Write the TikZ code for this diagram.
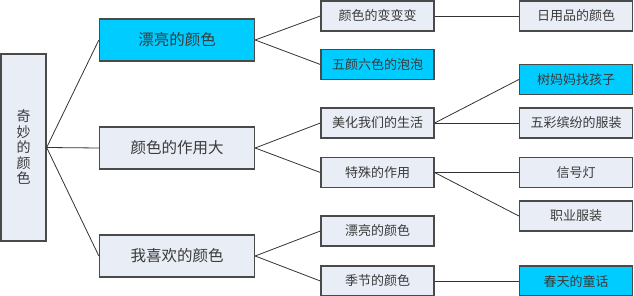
\documentclass[tikz,border=0pt]{standalone}
\usepackage{fontspec}
\setmainfont{Noto Sans CJK SC}
\usetikzlibrary{positioning}
\definecolor{boxfill}{HTML}{E9EDF6}
\definecolor{hotfill}{HTML}{00CCFF}
\definecolor{edge}{HTML}{4A4A4A}
\definecolor{wire}{HTML}{333333}
\definecolor{txt}{HTML}{3A3A3A}

\tikzset{
  box/.style={rectangle, draw=edge, line width=1.3pt, fill=boxfill, inner sep=0pt,
              text=txt, align=center},
  rootbox/.style={box, minimum width=45pt, minimum height=187pt,
                  font=\fontsize{14pt}{15.5pt}\selectfont},
  topicbox/.style={box, minimum width=155pt, minimum height=42pt,
                   font=\fontsize{15.5pt}{18pt}\selectfont},
  leafbox/.style={box, minimum width=113pt, minimum height=30pt,
                  font=\fontsize{13pt}{15pt}\selectfont},
  hot/.style={fill=hotfill},
  link/.style={draw=wire, line width=0.8pt}
}

\begin{document}
\begin{tikzpicture}[x=1pt, y=-1pt]
  \useasboundingbox (0,0) rectangle (634,296);

  % Root
  \node[rootbox] (root) at (23.5,147.5) {奇\\妙\\的\\颜\\色};

  % Topics
  \node[topicbox, hot] (pretty) at (177,40) {漂亮的颜色};
  \node[topicbox] (use) at (177,148) {颜色的作用大};
  \node[topicbox] (like) at (177,256) {我喜欢的颜色};

  % Second level
  \node[leafbox] (change) at (377.5,16) {颜色的变变变};
  \node[leafbox, hot] (bubble) at (377.5,64.5) {五颜六色的泡泡};
  \node[leafbox] (life) at (377.5,123) {美化我们的生活};
  \node[leafbox] (special) at (377.5,172.5) {特殊的作用};
  \node[leafbox] (pretty2) at (377.5,231) {漂亮的颜色};
  \node[leafbox] (season) at (377.5,281) {季节的颜色};

  % Third level
  \node[leafbox] (daily) at (576,16) {日用品的颜色};
  \node[leafbox, hot] (tree) at (576,79.5) {树妈妈找孩子};
  \node[leafbox] (clothes) at (576,123) {五彩缤纷的服装};
  \node[leafbox] (light) at (576,172.5) {信号灯};
  \node[leafbox] (work) at (576,216) {职业服装};
  \node[leafbox, hot] (spring) at (576,281) {春天的童话};

  % Connectors
  \foreach \a/\b in {root/pretty, root/use, root/like,
                     pretty/change, pretty/bubble, use/life, use/special,
                     like/pretty2, like/season,
                     change/daily, life/tree, life/clothes,
                     special/light, special/work, season/spring} {
    \draw[link] (\a.east) -- (\b.west);
  }
\end{tikzpicture}
\end{document}
